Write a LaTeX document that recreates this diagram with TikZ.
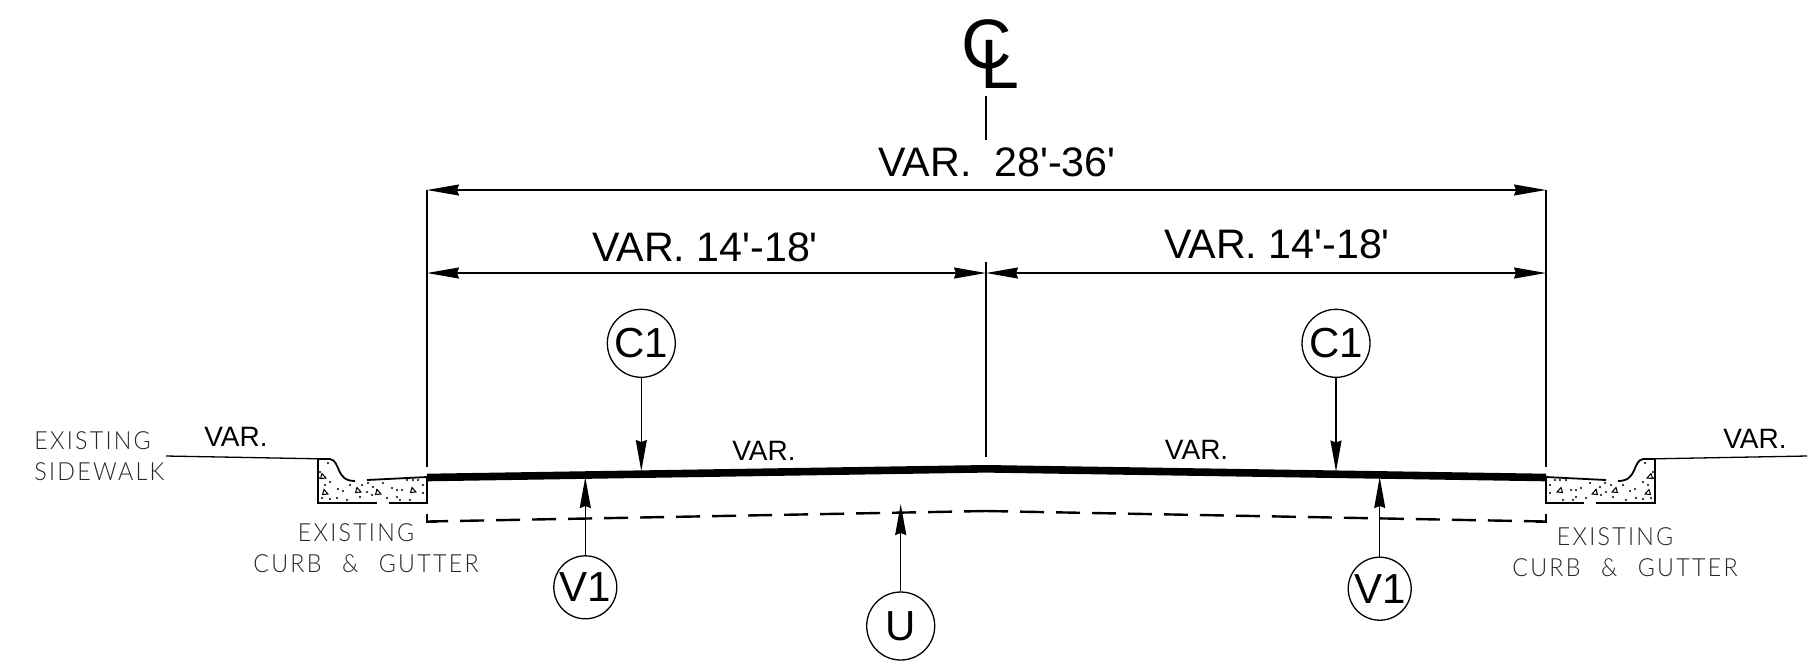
\documentclass[tikz,border=0pt]{standalone}
\usepackage{fontspec}
\usepackage{tikz}
\usetikzlibrary{arrows.meta}
\setmainfont{Liberation Sans}
\newfontfamily\cadfont[LetterSpace=9,WordSpace=2.4,FakeStretch=0.93]{Lato Light}

\tikzset{
  thinline/.style={line width=0.65pt},
  dimline/.style={thinline,{Stealth[length=16pt,width=5.5pt,inset=1pt]}-{Stealth[length=16pt,width=5.5pt,inset=1pt]}},
  callout/.style={thinline,-{Stealth[length=15.5pt,width=5.5pt,inset=1pt]}},
  bubble/.style={circle,draw,thinline,minimum size=34pt,inner sep=0pt,font=\fontsize{21}{25}\selectfont},
  bigbubble/.style={bubble,minimum size=34pt},
  smallbubble/.style={bubble,minimum size=31.5pt},
  biglabel/.style={inner sep=0pt,font=\fontsize{20.6}{25}\selectfont},
  varlabel/.style={inner sep=0pt,font=\fontsize{14}{17}\selectfont},
  notelabel/.style={inner sep=0pt,text=black!85,font=\cadfont\fontsize{12.5}{15}\selectfont},
  clglyph/.style={inner sep=0pt,font=\fontsize{35}{40}\selectfont},
  pavement/.style={line width=3.8pt},
  subgrade/.style={line width=1.2pt,dash pattern=on 12pt off 6pt,dash phase=1pt},
  curbline/.style={line width=0.9pt},
}

% left hand curb, the right one is its mirror image
\newcommand{\curbsection}{
  \draw[thinline] (166,456) -- (330,459);
  \draw[curbline] (318,459) -- (330,459) .. controls (341,461) and (335,481) .. (355,481);
  \draw[curbline] (367,480) -- (427,477);
  \draw[curbline] (318,459) -- (318,503) -- (377,503);
  \draw[curbline] (389,503) -- (427,503) -- (427,477);
  \foreach \px/\py in {328/463,320/472,319/478,330/482,325/485,338/489,343/491,350/485,362/485,368/483,373/487,367/492,372/495,383/483,392/488,397/490,407/480,413/480,418/480,423/485,423/493,402/490,397/497,387/498,360/497,347/500,337/498,330/499,322/498,410/500,400/500,377/490}
    \fill (\px,\py) circle (0.6pt);
  \foreach \px/\py in {323/476,325/492,358/490,378/492,413/490}
    \draw[line width=0.5pt] (\px-2.5,\py+2.5) -- (\px+3,\py+2) -- (\px-1,\py-2.5) -- cycle;
}

\begin{document}
\begin{tikzpicture}[x=0.5pt,y=-0.5pt]
\useasboundingbox (0,0) rectangle (1813,666);

% centre line symbol
\node[clglyph] (clc) at (987,44) {C};
\node[clglyph] (cll) at (1000,64) {L};
\coordinate (cltop) at (986,96);
\coordinate (clbot) at (986,140);
\draw[thinline] (cltop) -- (clbot);

% dimensions
\coordinate (edgeL) at (427,190);
\coordinate (edgeR) at (1546,190);
\coordinate (edgeLb) at (427,467);
\coordinate (edgeRb) at (1546,467);
\coordinate (midT) at (986,262);
\coordinate (midB) at (986,457);
\coordinate (dimL) at (427,273);
\coordinate (dimM) at (986,273);
\coordinate (dimR) at (1546,273);
\draw[thinline] (edgeL) -- (edgeLb);
\draw[thinline] (edgeR) -- (edgeRb);
\draw[thinline] (midT) -- (midB);
\draw[dimline] (edgeL) -- (edgeR);
\draw[dimline] (dimL) -- (dimM);
\draw[dimline] (dimM) -- (dimR);
\node[biglabel] (vartotal) at (997,162) {VAR.\ \ 28\textquotesingle-36\textquotesingle};
\node[biglabel] (varleft) at (705,247) {VAR. 14\textquotesingle-18\textquotesingle};
\node[biglabel] (varright) at (1277,244) {VAR. 14\textquotesingle-18\textquotesingle};

% road surface and subgrade
\coordinate (roadL) at (427,477.5);
\coordinate (roadM) at (986,468.8);
\coordinate (roadR) at (1546,477.5);
\draw[pavement] (roadL) -- (roadM) -- (roadR);
\coordinate (subL) at (427,521.5);
\coordinate (subM) at (986,511);
\coordinate (subR) at (1546,521.5);
\coordinate (tickL) at (427,514);
\coordinate (tickR) at (1546,514);
\draw[subgrade] (subM) -- (subL);
\draw[subgrade] (subM) -- (subR);
\draw[line width=1pt] (tickL) -- (subL) -- +(10,0);
\draw[line width=1pt] (tickR) -- (subR) -- +(-10,0);

% curbs
\curbsection
\begin{scope}[shift={(1973,0)},xscale=-1]
\curbsection
\end{scope}

% callouts
\node[bigbubble] (c1left) at (641.3,343.3) {C1};
\node[bigbubble] (c1right) at (1336,343.3) {C1};
\node[smallbubble] (v1left) at (585.3,587.3) {V1};
\node[smallbubble] (v1right) at (1379.7,588.7) {V1};
\node[bigbubble] (ucirc) at (900.7,626) {U};
\coordinate (c1lefttip) at (641.3,471);
\coordinate (c1righttip) at (1336,471.5);
\coordinate (v1lefttip) at (585.3,477);
\coordinate (v1righttip) at (1379.7,477);
\coordinate (utip) at (900.7,504);
\draw[callout] (c1left) -- (c1lefttip);
\draw[callout] (c1right) -- (c1righttip);
\draw[callout] (v1left) -- (v1lefttip);
\draw[callout] (v1right) -- (v1righttip);
\draw[callout] (ucirc) -- (utip);

% small labels
\node[varlabel] (varwalkL) at (236,437) {VAR.};
\node[varlabel] (varwalkR) at (1755,439) {VAR.};
\node[varlabel] (varroadL) at (764,451) {VAR.};
\node[varlabel] (varroadR) at (1196.6,450) {VAR.};
\node[notelabel,anchor=west] (walk1) at (34,441) {EXISTING};
\node[notelabel,anchor=west] (walk2) at (34,472) {SIDEWALK};
\node[notelabel] (curbL1) at (356,533) {EXISTING};
\node[notelabel] (curbL2) at (366,564) {CURB \& GUTTER};
\node[notelabel] (curbR1) at (1615,537) {EXISTING};
\node[notelabel] (curbR2) at (1625,568) {CURB \& GUTTER};
\end{tikzpicture}
\end{document}
